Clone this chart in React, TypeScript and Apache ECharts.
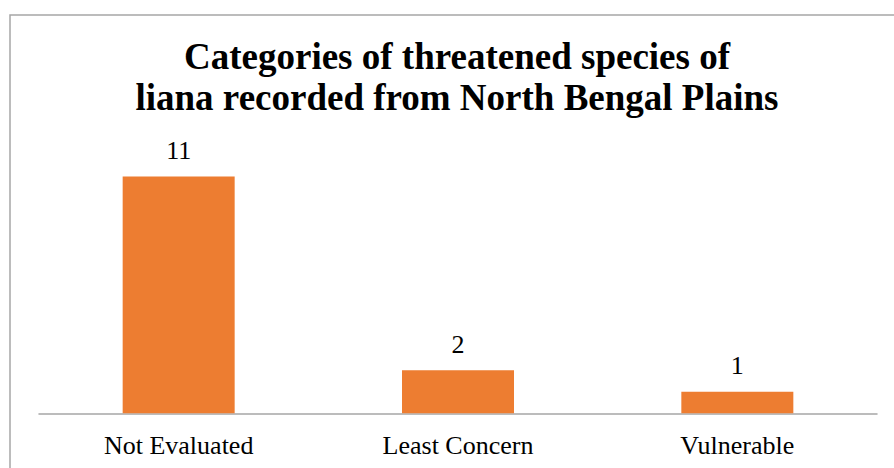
import React, { useEffect, useRef } from "react";
import * as echarts from "echarts";

const titleLines = [
  "Categories of threatened species of",
  "liana recorded from North Bengal Plains",
];
const categories = ["Not Evaluated", "Least Concern", "Vulnerable"];
const counts = [11, 2, 1];

export default function App() {
  const ref = useRef<HTMLDivElement>(null);
  useEffect(() => {
    if (!ref.current) return;
    const chart = echarts.init(ref.current, null, { renderer: "svg" });
    const serif = "'Liberation Serif', 'Times New Roman', serif";
    chart.setOption({
      animation: false,
      backgroundColor: "#ffffff",
      graphic: [
        {
          type: "rect",
          shape: { x: 10, y: 15, width: 900, height: 500 },
          style: { fill: "none", stroke: "#a6a6a6", lineWidth: 1.5 },
          silent: true,
        },
        {
          type: "text",
          x: 457,
          y: 36,
          style: {
            text: titleLines.join("\n"),
            fontFamily: serif,
            fontWeight: "bold",
            fontSize: 37,
            lineHeight: 41,
            fill: "#000000",
            align: "center",
            verticalAlign: "top",
          },
        },
      ],
      grid: { left: 39, right: 17, top: 155, bottom: 54.7 },
      xAxis: {
        type: "category",
        data: categories,
        axisLine: { lineStyle: { color: "#a6a6a6", width: 1.5 } },
        axisTick: { show: false },
        axisLabel: {
          color: "#000000",
          fontFamily: serif,
          fontSize: 26,
          margin: 19,
        },
      },
      yAxis: {
        type: "value",
        min: 0,
        max: 12,
        show: false,
        splitLine: { show: false },
      },
      series: [
        {
          type: "bar",
          data: counts,
          barWidth: 112,
          itemStyle: { color: "#ED7D31" },
          label: {
            show: true,
            position: "top",
            distance: 13,
            color: "#000000",
            fontFamily: serif,
            fontSize: 26,
          },
        },
      ],
    });
    return () => chart.dispose();
  }, []);
  return (
    <div
      ref={ref}
      style={{ position: "absolute", left: 0, top: 0, width: 894, height: 468 }}
    />
  );
}
